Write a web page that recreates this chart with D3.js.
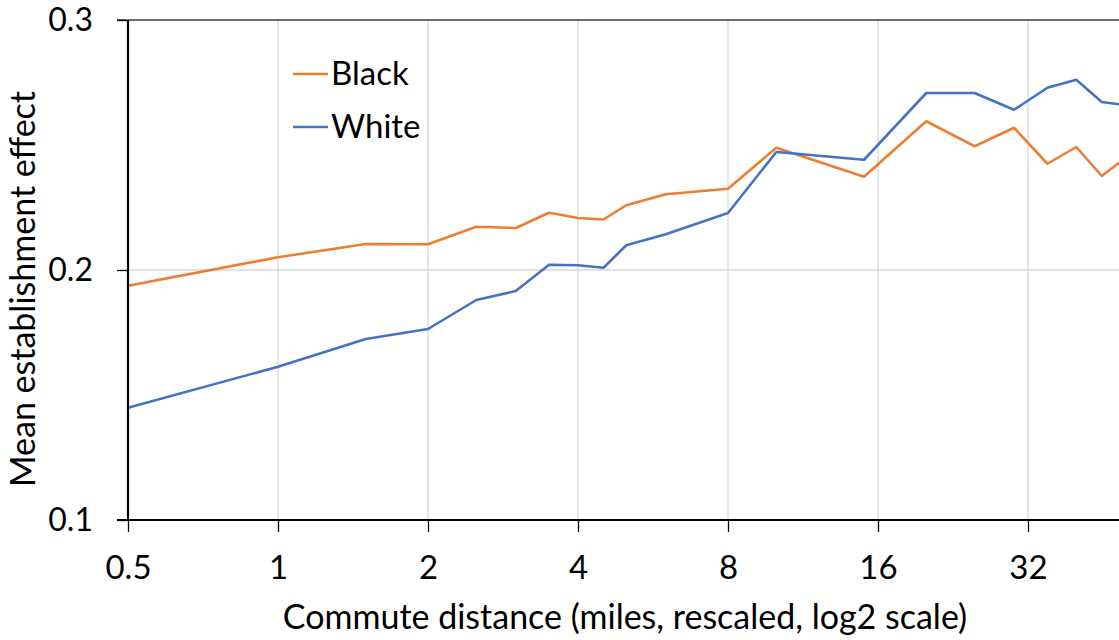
<!DOCTYPE html>
<html>
  <head>
    <meta charset='utf-8'>
    <title></title>
    <script src='https://d3js.org/d3.v7.min.js'></script>
    <style>
      body { margin: 0; background: #fff; }
      svg { display: block; }
      text { font-family: Lato, 'Open Sans', sans-serif; fill: #000; }
      .grid line { stroke: #d9d9d9; stroke-width: 1.3px; }
      .series { fill: none; stroke-width: 2.6px; stroke-linejoin: round; }
    </style>
  </head>
  <body>
  <script type='text/javascript'>

    // commute distance (miles, rescaled) at each point
    var distances = [0.5, 1, 1.5, 2, 2.5, 3, 3.5, 4, 4.5, 5, 6, 8, 10, 15, 20, 25, 30, 35, 40, 45, 50];

    var blackValues = [0.1937, 0.2051, 0.2104, 0.2103, 0.2173, 0.2168, 0.2229, 0.2208, 0.2202, 0.2259,
                       0.2303, 0.2325, 0.2489, 0.2373, 0.2595, 0.2495, 0.2569, 0.2425, 0.2492, 0.2376, 0.2445];
    var whiteValues = [0.1449, 0.1613, 0.1724, 0.1764, 0.1880, 0.1916, 0.2021, 0.2019, 0.2009, 0.2099,
                       0.2143, 0.2228, 0.2472, 0.2441, 0.2708, 0.2708, 0.2641, 0.2729, 0.2761, 0.2672, 0.2660];

    var seriesNames = ['Black', 'White'];
    var seriesColors = ['#ED7D31', '#4472C4'];

    var xTicks = [0.5, 1, 2, 4, 8, 16, 32];
    var yTicks = [0.1, 0.2, 0.3];

    var width = 1119;
    var height = 640;

    var x = d3.scaleLog().base(2)
              .domain([0.5, 64])
              .range([128, 1178]);
    var y = d3.scaleLinear()
              .domain([0.1, 0.3])
              .range([520, 20]);

    var svg = d3.select('body')
              .append('svg')
              .attr('width', width)
              .attr('height', height);

    // vertical gridlines
    svg.append('g')
      .attr('class', 'grid')
      .selectAll('line')
      .data(xTicks.slice(1))
      .enter().append('line')
      .attr('x1', function(d) { return x(d); })
      .attr('x2', function(d) { return x(d); })
      .attr('y1', y(0.3))
      .attr('y2', y(0.1));

    // horizontal gridline at 0.2
    svg.append('g')
      .attr('class', 'grid')
      .append('line')
      .attr('x1', x(0.5))
      .attr('x2', width)
      .attr('y1', y(0.2))
      .attr('y2', y(0.2));

    // top line at 0.3
    svg.append('line')
      .attr('x1', 117)
      .attr('x2', width)
      .attr('y1', y(0.3))
      .attr('y2', y(0.3))
      .style('stroke', '#404040')
      .style('stroke-width', 1.6);

    // series
    var line = d3.line()
              .x(function(d) { return x(d[0]); })
              .y(function(d) { return y(d[1]); });

    [blackValues, whiteValues].forEach(function(vals, i) {
      svg.append('path')
        .datum(distances.map(function(d, j) { return [d, vals[j]]; }))
        .attr('class', 'series')
        .style('stroke', seriesColors[i])
        .attr('d', line);
    });

    // y axis
    var yAxis = svg.append('g')
      .attr('transform', 'translate(' + x(0.5) + ',0)')
      .call(d3.axisLeft(y).tickValues(yTicks).tickFormat(d3.format('.1f')).tickSize(11).tickPadding(24));
    yAxis.select('.domain').remove();
    yAxis.selectAll('.tick line').style('stroke', '#000').style('stroke-width', 1.3);
    yAxis.selectAll('.tick text').style('font-size', '32px');
    yAxis.append('line')
      .attr('x1', 0).attr('x2', 0)
      .attr('y1', y(0.3)).attr('y2', y(0.1))
      .style('stroke', '#000').style('stroke-width', 2.2);

    // x axis
    var xAxis = svg.append('g')
      .attr('transform', 'translate(0,' + y(0.1) + ')')
      .call(d3.axisBottom(x).tickValues(xTicks).tickFormat(d3.format('')).tickSize(12).tickPadding(24));
    xAxis.select('.domain').remove();
    xAxis.selectAll('.tick line').style('stroke', '#000').style('stroke-width', 1.3);
    xAxis.selectAll('.tick text').style('font-size', '33px');
    xAxis.append('line')
      .attr('x1', x(0.5) - 11).attr('x2', width)
      .attr('y1', 0).attr('y2', 0)
      .style('stroke', '#000').style('stroke-width', 2.2);

    // axis titles
    svg.append('text')
      .attr('x', 625)
      .attr('y', 629)
      .attr('text-anchor', 'middle')
      .style('font-size', '34px')
      .text('Commute distance (miles, rescaled, log2 scale)');

    svg.append('text')
      .attr('transform', 'translate(35,289) rotate(-90)')
      .attr('text-anchor', 'middle')
      .style('font-size', '34px')
      .text('Mean establishment effect');

    // legend
    var legend = svg.append('g')
      .selectAll('g')
      .data(seriesNames)
      .enter().append('g')
      .attr('transform', function(d, i) { return 'translate(293,' + (74 + i * 53) + ')'; });

    legend.append('line')
      .attr('x1', 0).attr('x2', 35)
      .style('stroke', function(d, i) { return seriesColors[i]; })
      .style('stroke-width', 2.6);

    legend.append('text')
      .attr('x', 38)
      .attr('y', 11)
      .style('font-size', '33px')
      .text(function(d) { return d; });

  </script>
  </body>
</html>
